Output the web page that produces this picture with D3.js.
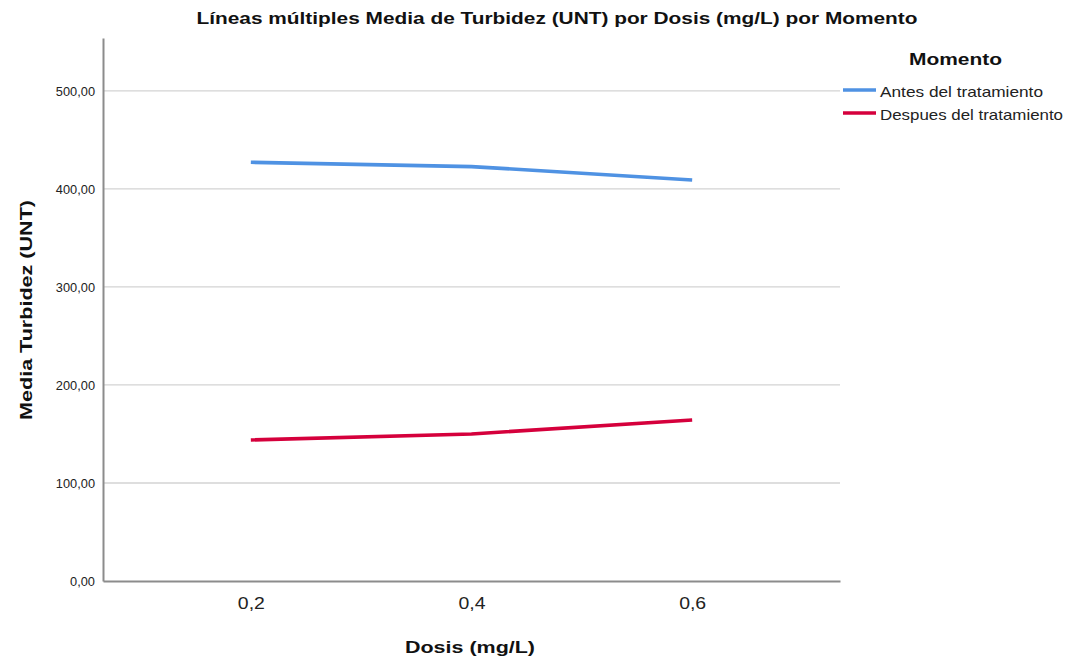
<!DOCTYPE html>
<html><head><meta charset="utf-8">
<script src="https://cdn.jsdelivr.net/npm/d3@7"></script>
<style>body{margin:0;background:#fff}svg{display:block;font-family:"Liberation Sans",Arial,sans-serif}</style>
</head><body><svg id="c" width="1073" height="663"></svg>
<script>
const categories = ["0,2","0,4","0,6"];
const seriesNames = ["Antes del tratamiento","Despues del tratamiento"];
const antes = [427.2, 422.8, 409.2];
const despues = [143.9, 150.0, 164.3];
const yTicks = [0,100,200,300,400,500];
const colors = ["#4f92e3","#d5003c"];

const svg = d3.select("#c");
const L=103, R=840, T=38, B=581;
const x = d3.scalePoint().domain(categories).range([L,R]).padding(0.67);
const y = d3.scaleLinear().domain([0,554]).range([B,T]);

// gridlines
svg.append("g").selectAll("line").data(yTicks.filter(d=>d>0)).join("line")
  .attr("x1",L).attr("x2",R).attr("y1",d=>y(d)).attr("y2",d=>y(d))
  .attr("stroke","#d3d3d3").attr("stroke-width",1.3);

// y axis
const ya = svg.append("g").attr("transform",`translate(${L},0)`)
  .call(d3.axisLeft(y).tickValues(yTicks).tickSize(0).tickPadding(8)
    .tickFormat(d=>d3.format(".2f")(d).replace(".",",")));
ya.select(".domain").attr("stroke","#8c8c8c").attr("stroke-width",2);
ya.selectAll("text").attr("font-size",12.8).attr("fill","#222").attr("font-family","Liberation Sans, Arial, sans-serif");

// x axis
const xa = svg.append("g").attr("transform",`translate(0,${B})`)
  .call(d3.axisBottom(x).tickSize(0).tickPadding(17));
xa.select(".domain").attr("stroke","#8c8c8c").attr("stroke-width",2);
xa.selectAll("text").attr("font-size",16).attr("fill","#222")
  .attr("textLength",27).attr("lengthAdjust","spacingAndGlyphs")
  .attr("font-family","Liberation Sans, Arial, sans-serif");

// lines
const line = d3.line().x((d,i)=>x(categories[i])).y(d=>y(d));
[antes,despues].forEach((s,k)=>{
  svg.append("path").datum(s).attr("d",line).attr("fill","none")
    .attr("stroke",colors[k]).attr("stroke-width",3.6);
});

// title
svg.append("text").attr("x",557).attr("y",24).attr("text-anchor","middle")
  .attr("font-size",17).attr("font-weight","bold").attr("fill","#111")
  .attr("textLength",721).attr("lengthAdjust","spacingAndGlyphs")
  .text("Líneas múltiples Media de Turbidez (UNT) por Dosis (mg/L) por Momento");
// axis titles
svg.append("text").attr("x",470).attr("y",653).attr("text-anchor","middle")
  .attr("font-size",17).attr("font-weight","bold").attr("fill","#111")
  .attr("textLength",130).attr("lengthAdjust","spacingAndGlyphs").text("Dosis (mg/L)");
svg.append("text").attr("transform","translate(32,310) rotate(-90)").attr("text-anchor","middle")
  .attr("font-size",16.5).attr("font-weight","bold").attr("fill","#111")
  .attr("textLength",220).attr("lengthAdjust","spacingAndGlyphs").text("Media Turbidez (UNT)");

// legend
svg.append("text").attr("x",955.5).attr("y",65).attr("text-anchor","middle")
  .attr("font-size",17).attr("font-weight","bold").attr("fill","#111")
  .attr("textLength",93).attr("lengthAdjust","spacingAndGlyphs").text("Momento");
const legLens = [163,183];
const lg = svg.append("g").selectAll("g").data(seriesNames).join("g")
  .attr("transform",(d,i)=>`translate(843,${90+i*23})`);
lg.append("line").attr("x1",0).attr("x2",33).attr("y1",0).attr("y2",0)
  .attr("stroke",(d,i)=>colors[i]).attr("stroke-width",3.6);
lg.append("text").attr("x",37).attr("y",7).attr("font-size",14.5).attr("fill","#222")
  .attr("textLength",(d,i)=>legLens[i]).attr("lengthAdjust","spacingAndGlyphs").text(d=>d);
</script></body></html>
